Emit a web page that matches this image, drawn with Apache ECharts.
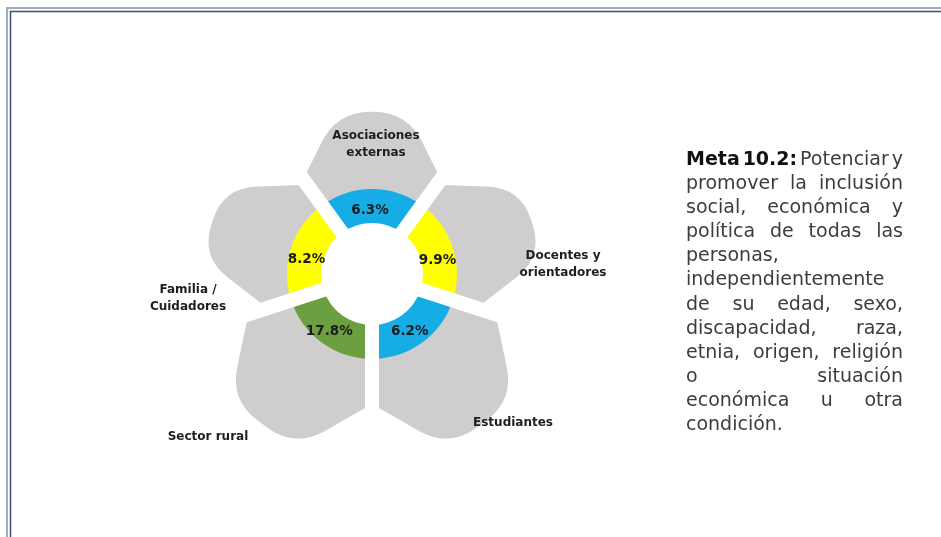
<!DOCTYPE html>
<html>
<head>
<meta charset="utf-8">
<script src="https://cdn.jsdelivr.net/npm/echarts@6/dist/echarts.min.js"></script>
<style>
html, body { margin: 0; padding: 0; background: #fff; }
#main { width: 941px; height: 537px; }
</style>
</head>
<body>
<div id="main"></div>
<script>
// data
var categories = ['Asociaciones\nexternas', 'Docentes y\norientadores', 'Estudiantes', 'Sector rural', 'Familia /\nCuidadores'];
var percentages = [6.3, 9.9, 6.2, 17.8, 8.2];
var segmentShare = [1, 1, 1, 1, 1]; // the ring segments are all the same size
var metaLines = [
	'*Meta *10.2: Potenciar y',
	'promover la inclusión',
	'social, económica y',
	'política de todas las',
	'personas,',
	'independientemente',
	'de su edad, sexo,',
	'discapacidad, raza,',
	'etnia, origen, religión',
	'o situación',
	'económica u otra',
	'condición.'
];
var justified = [1, 1, 1, 1, 0, 0, 1, 1, 1, 1, 1, 0];

// styling / layout
var ringColors = ['#16ade6', '#ffff00', '#16ade6', '#6b9f3f', '#ffff00'];
var labelPos = [[376, 144], [563, 264], [513, 423], [208, 437], [188, 298]];
var pctShift = [[-2, 7], [-2, 8], [-4, 0], [-1, 0], [2, 7]];
var petalSide = [117, 110, 130, 130, 110];  // reach along the gap lines
var petalReach = [166, 172, 190, 190, 172]; // reach of the outer corners
var center = [372, 274];
var gap = 14;

var chart = echarts.init(document.getElementById('main'), null, { renderer: 'canvas' });

// justified text block on the right
var ctx = document.createElement('canvas').getContext('2d');
var txtFamily = '"DejaVu Sans", sans-serif';
var txtSize = 19;
function measure(word, bold) {
	ctx.font = (bold ? 'bold ' : '') + txtSize + 'px ' + txtFamily;
	return ctx.measureText(word).width;
}
var graphics = [];
var tLeft = 686, tRight = 903, tTop = 160, tStep = 24.1;
metaLines.forEach(function(line, i) {
	var words = line.split(' ').map(function(w) {
		var b = w.charAt(0) === '*';
		return { text: b ? w.slice(1) : w, bold: b };
	});
	var widths = words.map(function(w) { return measure(w.text, w.bold); });
	var total = widths.reduce(function(a, b) { return a + b; }, 0);
	var space = measure(' ', false);
	if (justified[i] && words.length > 1) space = (tRight - tLeft - total) / (words.length - 1);
	var x = tLeft;
	words.forEach(function(w, k) {
		graphics.push({
			type: 'text',
			x: x,
			y: tTop + i * tStep,
			style: {
				text: w.text,
				fontFamily: txtFamily,
				fontSize: txtSize,
				fontWeight: w.bold ? 'bold' : 'normal',
				fill: w.bold ? '#111' : '#3c3c3c',
				verticalAlign: 'middle'
			}
		});
		x += widths[k] + space;
	});
});
// double frame lines top and left
graphics.push({
	type: 'polyline',
	shape: { points: [[7, 537], [7, 8], [941, 8]] },
	style: { stroke: '#a3acbd', lineWidth: 2, fill: null }
});
graphics.push({
	type: 'polyline',
	shape: { points: [[10.5, 537], [10.5, 11.5], [941, 11.5]] },
	style: { stroke: '#3d5172', lineWidth: 1.5, fill: null }
});

// rounded outline through a list of points
function towards(v, p, r) {
	var dx = p[0] - v[0], dy = p[1] - v[1], len = Math.sqrt(dx * dx + dy * dy);
	var t = len ? Math.min(r, len / 2) / len : 0;
	return [v[0] + dx * t, v[1] + dy * t];
}
function roundedPath(pts, radii) {
	var n = pts.length, d = '';
	for (var k = 0; k < n; k++) {
		var v = pts[k];
		var a = towards(v, pts[(k - 1 + n) % n], radii[k]);
		var b = towards(v, pts[(k + 1) % n], radii[k]);
		d += (k === 0 ? 'M' : 'L') + a[0] + ' ' + a[1] + ' Q' + v[0] + ' ' + v[1] + ' ' + b[0] + ' ' + b[1] + ' ';
	}
	return d + 'Z';
}

function renderPetal(params, api) {
	var i = params.dataIndex;
	var k = api.value(1);
	var s = petalSide[i], r = petalReach[i], half = 0.17;
	var pts = [
		api.coord([70, k]),
		api.coord([s, k]),
		api.coord([r, k + 0.5 - half]),
		api.coord([r, k + 0.5 + half]),
		api.coord([s, k + 1]),
		api.coord([70, k + 1])
	];
	return {
		type: 'path',
		shape: { pathData: roundedPath(pts, [0, 3, 34, 34, 3, 0]) },
		style: { fill: '#cfcdcd' }
	};
}

var petalData = categories.map(function(c, i) {
	return { name: c, value: segmentShare[i] };
});
var ringData = categories.map(function(c, i) {
	return { name: c, value: segmentShare[i], itemStyle: { color: ringColors[i] } };
});

option = {
	animation: false,
	graphic: graphics,
	polar: { center: center, radius: 200 },
	angleAxis: { type: 'value', min: 0, max: 5, startAngle: 126, clockwise: true, show: false },
	radiusAxis: { type: 'value', min: 0, max: 200, show: false },
	series: [{
		// gray petals behind the ring
		type: 'custom',
		coordinateSystem: 'polar',
		z: 1,
		silent: true,
		renderItem: renderPetal,
		encode: { radius: 0, angle: 1 },
		data: categories.map(function(c, i) { return [0, i]; })
	}, {
		// coloured ring with the percentages
		type: 'pie',
		z: 2,
		silent: true,
		center: center,
		radius: [51, 85],
		startAngle: 126,
		clockwise: true,
		label: {
			show: true,
			position: 'inside',
			formatter: function(p) { return percentages[p.dataIndex].toFixed(1) + '%'; },
			fontFamily: '"DejaVu Sans", sans-serif',
			fontWeight: 'bold',
			fontSize: 13.5,
			color: '#1c1c1c'
		},
		labelLine: { show: false },
		labelLayout: function(p) {
			return { dx: pctShift[p.dataIndex][0], dy: pctShift[p.dataIndex][1] };
		},
		emphasis: { disabled: true },
		data: ringData
	}, {
		// white gaps cut through ring and petals, category names on top
		type: 'pie',
		z: 3,
		silent: true,
		center: center,
		radius: [0, 200],
		startAngle: 126,
		clockwise: true,
		itemStyle: { color: 'rgba(0,0,0,0)', borderColor: '#fff', borderWidth: gap },
		label: {
			show: true,
			formatter: '{b}',
			fontFamily: '"DejaVu Sans", sans-serif',
			fontWeight: 'bold',
			fontSize: 12,
			lineHeight: 17,
			color: '#1e1e1e',
			align: 'center'
		},
		labelLine: { show: false },
		labelLayout: function(p) {
			return { x: labelPos[p.dataIndex][0], y: labelPos[p.dataIndex][1], align: 'center', verticalAlign: 'middle' };
		},
		emphasis: { disabled: true },
		data: petalData
	}]
};

chart.setOption(option);
</script>
</body>
</html>
